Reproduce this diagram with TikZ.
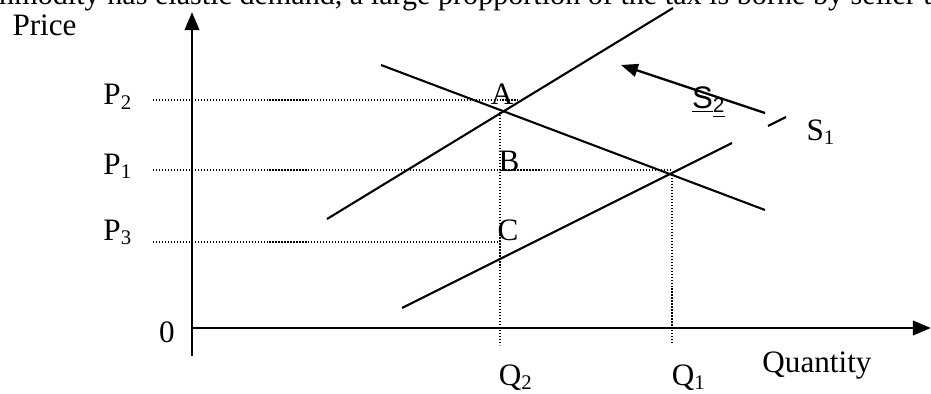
\documentclass[tikz,border=0pt]{standalone}
\usepackage{fontspec}
\setmainfont{Liberation Serif}
\setsansfont{Liberation Sans}
\usetikzlibrary{arrows.meta}

\begin{document}
\begin{tikzpicture}[x=0.385pt,y=-0.385pt,
    font=\fontsize{12}{14}\selectfont,
    axis/.style={line width=1.15pt,-{Triangle[length=7pt,width=5.5pt]}},
    curve/.style={line width=0.8pt},
    guide/.style={line width=0.6pt,dash pattern=on 0.45pt off 0.7pt},
    lbl/.style={anchor=base,inner sep=0pt}]
    % Frame of the picture
    \useasboundingbox (0,0) rectangle (931,394);
    \clip (0,0) rectangle (931,394);

    % Text cut off above
    \node[lbl,anchor=base west,font=\fontsize{11.6}{14}\selectfont] (caption) at (-38,5)
        {commodity has elastic demand, a large propportion of the tax is borne by seller than buyer};

    % Axes
    \coordinate (O) at (192,328);
    \coordinate (ybot) at (192,356);
    \coordinate (ytop) at (192,12);
    \coordinate (xend) at (931,328);
    \draw[axis] (ybot) -- (ytop);
    \draw[axis] (O) -- (xend);
    \node[lbl,anchor=base west] (price) at (12,36) {Price};
    \node[lbl] (quantity) at (817,372) {Quantity};
    \node[lbl] (zero) at (167,342) {0};

    % Supply and demand lines
    \coordinate (s2a) at (327,219);
    \coordinate (s2b) at (673,8);
    \coordinate (da) at (381,65);
    \coordinate (db) at (765,210);
    \coordinate (s1a) at (402,308);
    \coordinate (s1b) at (732,143);
    \coordinate (s1c) at (768,126);
    \coordinate (s1d) at (786,117);
    \draw[curve] (s2a) -- (s2b);
    \draw[curve] (da) -- (db);
    \draw[curve] (s1a) -- (s1b);
    \draw[curve] (s1c) -- (s1d);

    % Shift of supply
    \coordinate (shfrom) at (765,113);
    \coordinate (shto) at (621,65);
    \draw[line width=0.9pt,-{Triangle[length=6.5pt,width=5pt]}] (shfrom) -- (shto);
    \node[lbl,font=\fontsize{12}{14}\sffamily] (stwo) at (709,108) {\underline{S}\textsubscript{\underline{2}}};
    \node[lbl] (sone) at (821,140) {S\textsubscript{1}};

    % Price levels
    \coordinate (p2l) at (153,100);
    \coordinate (p2r) at (518,100);
    \coordinate (p1l) at (153,170);
    \coordinate (p1r) at (672,170);
    \coordinate (p3l) at (153,242);
    \coordinate (p3r) at (498,242);
    \draw[guide] (p2l) -- (p2r);
    \draw[guide] (p1l) -- (p1r);
    \draw[guide] (p3l) -- (p3r);
    \node[lbl] (ptwo) at (118,105) {P\textsubscript{2}};
    \node[lbl] (pone) at (118,174) {P\textsubscript{1}};
    \node[lbl] (pthree) at (118,240) {P\textsubscript{3}};

    % Quantity levels
    \coordinate (q2t) at (500,112);
    \coordinate (q2b) at (500,345);
    \coordinate (q1t) at (672,172);
    \coordinate (q1b) at (672,343);
    \draw[guide] (q2t) -- (q2b);
    \draw[guide] (q1t) -- (q1b);
    \node[lbl] (qtwo) at (516,385) {Q\textsubscript{2}};
    \node[lbl] (qone) at (689,385) {Q\textsubscript{1}};

    % Points
    \node[lbl] (ptA) at (502,105) {A};
    \node[lbl] (ptB) at (509,172) {B};
    \node[lbl] (ptC) at (508,240) {C};
\end{tikzpicture}
\end{document}
